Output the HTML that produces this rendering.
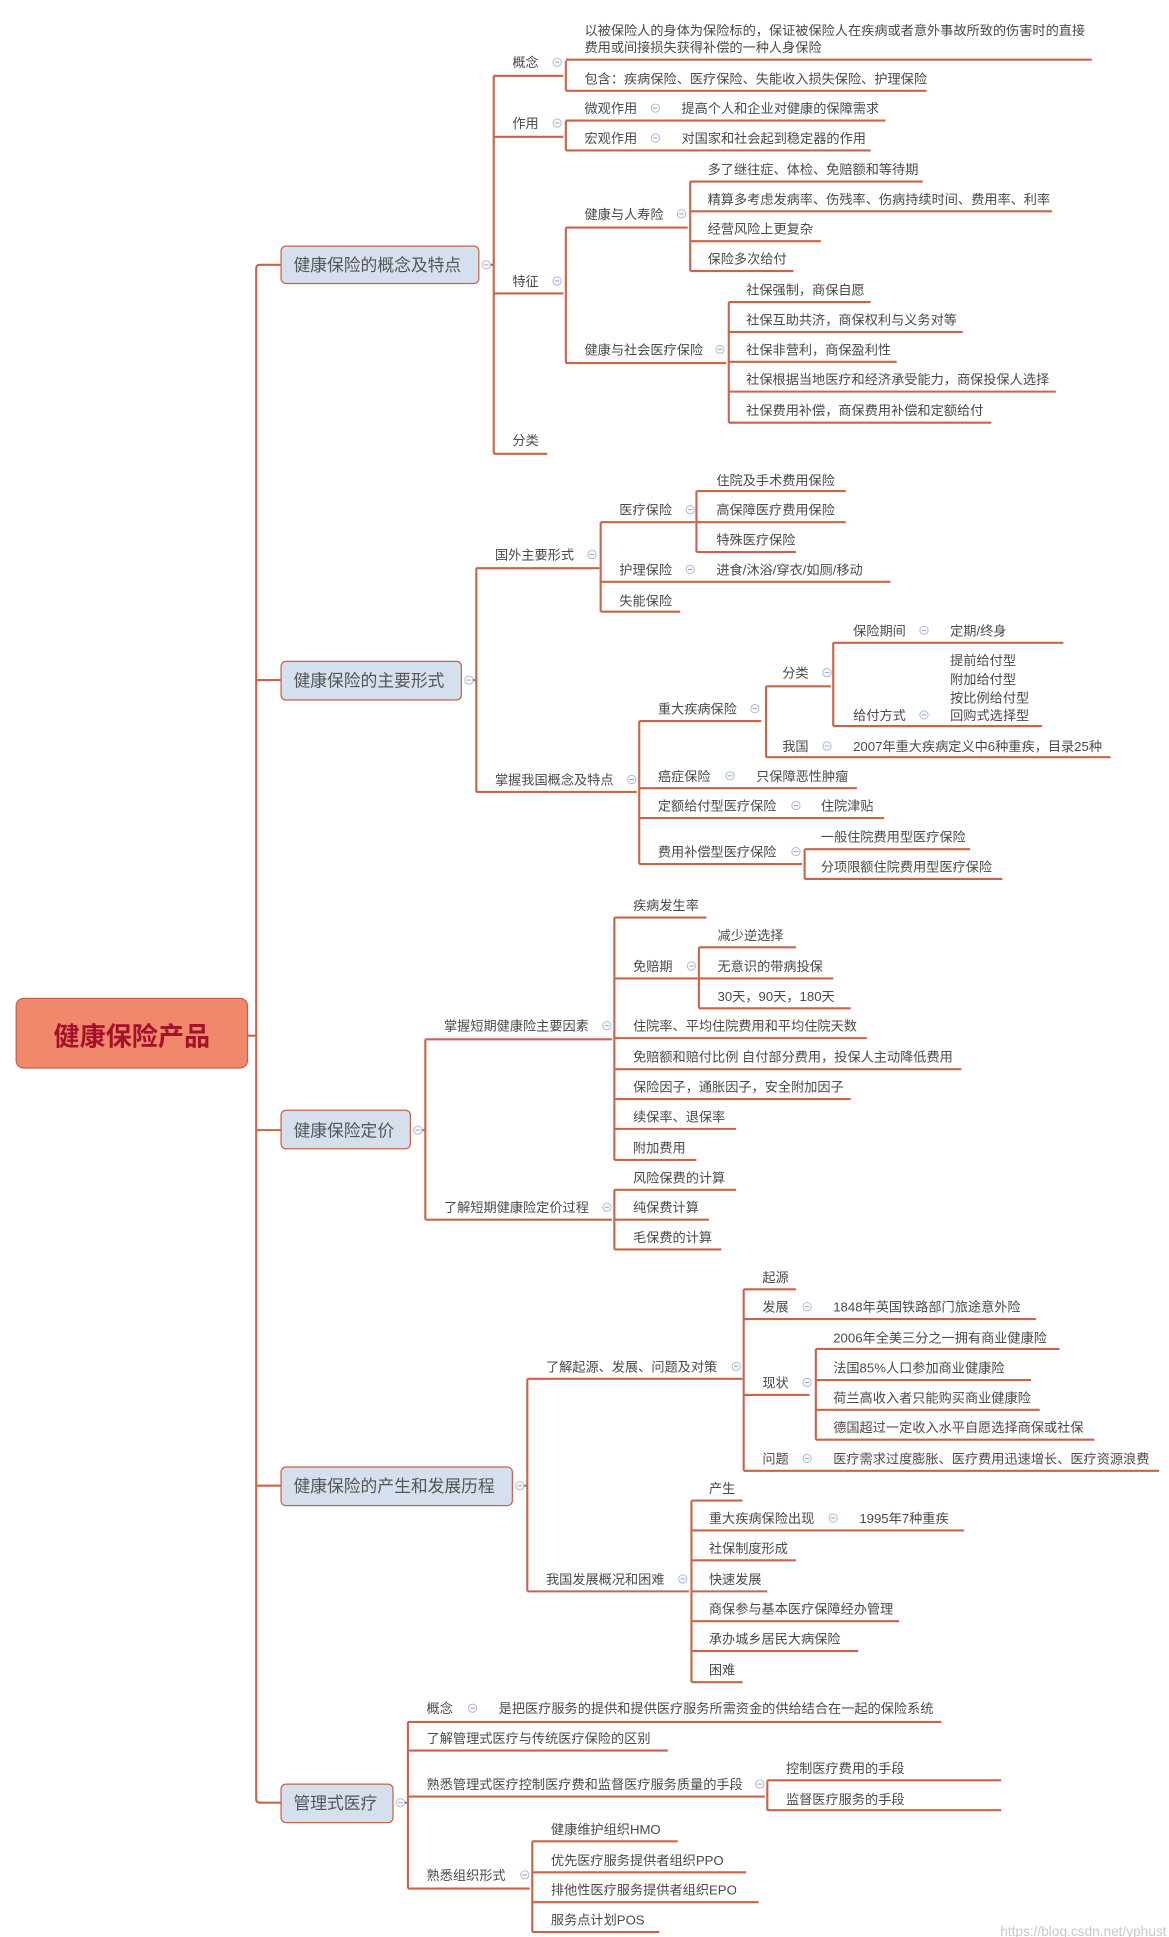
<!DOCTYPE html>
<html><head><meta charset="utf-8"><style>
html,body{margin:0;padding:0;background:#fff;}
svg{display:block;}
text{font-family:"Liberation Sans","Noto Sans CJK SC",sans-serif;font-size:10.6px;fill:#4a4a4a;}
.m{font-size:13.5px;fill:#555;}
</style></head><body>
<svg width="1169" height="1937" viewBox="0 0 940 1558" preserveAspectRatio="none" xmlns="http://www.w3.org/2000/svg">
<defs><g id="c"><circle r="3.3" fill="#fff" stroke="#a9b8dc" stroke-width="0.8"/><path d="M-1.8 0H1.8" stroke="#8f9fcc" stroke-width="0.8"/></g></defs>
<path fill="none" stroke="#c8644a" stroke-width="1.7" d="
M206 216V1447 M199 833H206 M209 213H226 M206 216Q206 213 209 213 M206 547H226 M206 909H226 M206 1195H226 M206 1447Q206 1450 209 1450H226
M388 213H397 M397 61V365 M397 61H453 M397 110H453 M397 236H453 M397 365H440
M455 49V73 M455 48H878 M455 73H745
M455 97V121 M455 97H712 M455 121H700
M455 183V292 M455 183H553 M455 292H584
M555 146V218 M555 146H742 M555 170H846 M555 194H660 M555 218H638
M586 243V340 M586 243H700 M586 267H774 M586 291H721 M586 315H849 M586 340H797
M374 547H383 M383 457V637 M383 457H482 M383 637H512
M483 420V492 M483 420H559 M483 468H716 M483 492H547
M560 395V444 M560 395H680 M560 420H680 M560 444H640
M514 580V695 M514 580H612 M514 634H689 M514 658H711 M514 695H645
M616 552V609 M616 552H668 M616 609H893
M670 517V584 M670 517H855 M670 584H838
M647 683V707 M647 683H780 M647 707H806
M333 909H342 M342 836V981 M342 836H492 M342 981H492
M494 738V933 M494 738H568 M494 787H561 M494 835H697 M494 860H773 M494 884H684 M494 908H592 M494 933H560
M562 762V811 M562 762H640 M562 787H670 M562 811H684
M494 957V1005 M494 957H592 M494 981H570 M494 1005H580
M415 1195H424 M424 1109V1280 M424 1109H597 M424 1280H554
M598 1037V1183 M598 1037H640 M598 1061H833 M598 1122H651 M598 1183H932
M656 1085V1158 M656 1085H852 M656 1110H829 M656 1134H836 M656 1158H880
M556 1207V1353 M556 1207H597 M556 1231H775 M556 1255H640 M556 1280H617 M556 1304H723 M556 1328H690 M556 1353H597
M319 1450H328 M328 1385V1519 M328 1385H757 M328 1408H537 M328 1445H615 M328 1519H426
M617 1432V1456 M617 1432H805 M617 1456H805
M428 1481V1554 M428 1481H545 M428 1506H600 M428 1530H610 M428 1554H530"/>

<rect x="13" y="803" width="186" height="56" rx="6" fill="#f0886c" stroke="#c8604a" stroke-width="1"/>
<text x="106" y="841" text-anchor="middle" style="font-size:21px;font-weight:bold;fill:#a3122a">健康保险产品</text>

<rect x="226" y="198" width="159" height="30" rx="4" fill="#d6dfee" stroke="#c8644a" stroke-width="1"/>
<text class="m" x="236" y="218">健康保险的概念及特点</text>
<rect x="226" y="532" width="145" height="31" rx="4" fill="#d6dfee" stroke="#c8644a" stroke-width="1"/>
<text class="m" x="236" y="552">健康保险的主要形式</text>
<rect x="226" y="893" width="104" height="31" rx="4" fill="#d6dfee" stroke="#c8644a" stroke-width="1"/>
<text class="m" x="236" y="914">健康保险定价</text>
<rect x="226" y="1180" width="186" height="31" rx="4" fill="#d6dfee" stroke="#c8644a" stroke-width="1"/>
<text class="m" x="236" y="1200">健康保险的产生和发展历程</text>
<rect x="226" y="1435" width="90" height="31" rx="4" fill="#d6dfee" stroke="#c8644a" stroke-width="1"/>
<text class="m" x="236" y="1455">管理式医疗</text>

<use href="#c" x="391" y="213"/><use href="#c" x="377" y="547"/><use href="#c" x="336" y="909"/><use href="#c" x="418" y="1195"/><use href="#c" x="322" y="1450"/>
<use href="#c" x="448" y="50"/><use href="#c" x="448" y="99"/><use href="#c" x="448" y="226"/>
<use href="#c" x="527" y="87"/><use href="#c" x="527" y="111"/><use href="#c" x="548" y="172"/><use href="#c" x="579" y="281"/>
<use href="#c" x="476" y="446"/><use href="#c" x="555" y="410"/><use href="#c" x="555" y="458"/><use href="#c" x="508" y="627"/>
<use href="#c" x="607" y="570"/><use href="#c" x="665" y="541"/><use href="#c" x="743" y="507"/><use href="#c" x="743" y="575"/><use href="#c" x="665" y="600"/>
<use href="#c" x="587" y="624"/><use href="#c" x="640" y="648"/><use href="#c" x="640" y="685"/>
<use href="#c" x="488" y="825"/><use href="#c" x="556" y="777"/><use href="#c" x="488" y="971"/>
<use href="#c" x="592" y="1099"/><use href="#c" x="649" y="1051"/><use href="#c" x="649" y="1112"/><use href="#c" x="649" y="1173"/><use href="#c" x="549" y="1270"/><use href="#c" x="670" y="1221"/>
<use href="#c" x="380" y="1374"/><use href="#c" x="611" y="1435"/><use href="#c" x="422" y="1508"/>

<text x="412" y="54">概念</text>
<text x="470" y="28">以被保险人的身体为保险标的，保证被保险人在疾病或者意外事故所致的伤害时的直接</text>
<text x="470" y="42">费用或间接损失获得补偿的一种人身保险</text>
<text x="470" y="67">包含：疾病保险、医疗保险、失能收入损失保险、护理保险</text>
<text x="412" y="103">作用</text>
<text x="470" y="91">微观作用</text><text x="548" y="91">提高个人和企业对健康的保障需求</text>
<text x="470" y="115">宏观作用</text><text x="548" y="115">对国家和社会起到稳定器的作用</text>
<text x="412" y="230">特征</text>
<text x="470" y="176">健康与人寿险</text>
<text x="569" y="140">多了继往症、体检、免赔额和等待期</text>
<text x="569" y="164">精算多考虑发病率、伤残率、伤病持续时间、费用率、利率</text>
<text x="569" y="188">经营风险上更复杂</text>
<text x="569" y="212">保险多次给付</text>
<text x="470" y="285">健康与社会医疗保险</text>
<text x="600" y="237">社保强制，商保自愿</text>
<text x="600" y="261">社保互助共济，商保权利与义务对等</text>
<text x="600" y="285">社保非营利，商保盈利性</text>
<text x="600" y="309">社保根据当地医疗和经济承受能力，商保投保人选择</text>
<text x="600" y="334">社保费用补偿，商保费用补偿和定额给付</text>
<text x="412" y="358">分类</text>

<text x="398" y="450">国外主要形式</text>
<text x="498" y="414">医疗保险</text>
<text x="576" y="390">住院及手术费用保险</text>
<text x="576" y="414">高保障医疗费用保险</text>
<text x="576" y="438">特殊医疗保险</text>
<text x="498" y="462">护理保险</text><text x="576" y="462">进食/沐浴/穿衣/如厕/移动</text>
<text x="498" y="487">失能保险</text>
<text x="398" y="631">掌握我国概念及特点</text>
<text x="529" y="574">重大疾病保险</text>
<text x="629" y="545">分类</text>
<text x="686" y="511">保险期间</text><text x="764" y="511">定期/终身</text>
<text x="764" y="535">提前给付型</text>
<text x="764" y="550">附加给付型</text>
<text x="764" y="565">按比例给付型</text>
<text x="686" y="579">给付方式</text><text x="764" y="579">回购式选择型</text>
<text x="629" y="604">我国</text><text x="686" y="604">2007年重大疾病定义中6种重疾，目录25种</text>
<text x="529" y="628">癌症保险</text><text x="608" y="628">只保障恶性肿瘤</text>
<text x="529" y="652">定额给付型医疗保险</text><text x="660" y="652">住院津贴</text>
<text x="529" y="689">费用补偿型医疗保险</text>
<text x="660" y="677">一般住院费用型医疗保险</text>
<text x="660" y="701">分项限额住院费用型医疗保险</text>

<text x="357" y="829">掌握短期健康险主要因素</text>
<text x="509" y="732">疾病发生率</text>
<text x="509" y="781">免赔期</text>
<text x="577" y="756">减少逆选择</text>
<text x="577" y="781">无意识的带病投保</text>
<text x="577" y="805">30天，90天，180天</text>
<text x="509" y="829">住院率、平均住院费用和平均住院天数</text>
<text x="509" y="854">免赔额和赔付比例 自付部分费用，投保人主动降低费用</text>
<text x="509" y="878">保险因子，通胀因子，安全附加因子</text>
<text x="509" y="902">续保率、退保率</text>
<text x="509" y="927">附加费用</text>
<text x="357" y="975">了解短期健康险定价过程</text>
<text x="509" y="951">风险保费的计算</text>
<text x="509" y="975">纯保费计算</text>
<text x="509" y="999">毛保费的计算</text>

<text x="439" y="1103">了解起源、发展、问题及对策</text>
<text x="613" y="1031">起源</text>
<text x="613" y="1055">发展</text><text x="670" y="1055">1848年英国铁路部门旅途意外险</text>
<text x="613" y="1116">现状</text>
<text x="670" y="1080">2006年全美三分之一拥有商业健康险</text>
<text x="670" y="1104">法国85%人口参加商业健康险</text>
<text x="670" y="1128">荷兰高收入者只能购买商业健康险</text>
<text x="670" y="1152">德国超过一定收入水平自愿选择商保或社保</text>
<text x="613" y="1177">问题</text><text x="670" y="1177">医疗需求过度膨胀、医疗费用迅速增长、医疗资源浪费</text>
<text x="439" y="1274">我国发展概况和困难</text>
<text x="570" y="1201">产生</text>
<text x="570" y="1225">重大疾病保险出现</text><text x="691" y="1225">1995年7种重疾</text>
<text x="570" y="1249">社保制度形成</text>
<text x="570" y="1274">快速发展</text>
<text x="570" y="1298">商保参与基本医疗保障经办管理</text>
<text x="570" y="1322">承办城乡居民大病保险</text>
<text x="570" y="1347">困难</text>

<text x="343" y="1378">概念</text><text x="401" y="1378">是把医疗服务的提供和提供医疗服务所需资金的供给结合在一起的保险系统</text>
<text x="343" y="1402">了解管理式医疗与传统医疗保险的区别</text>
<text x="343" y="1439">熟悉管理式医疗控制医疗费和监督医疗服务质量的手段</text>
<text x="632" y="1426">控制医疗费用的手段</text>
<text x="632" y="1451">监督医疗服务的手段</text>
<text x="343" y="1512">熟悉组织形式</text>
<text x="443" y="1475">健康维护组织HMO</text>
<text x="443" y="1500">优先医疗服务提供者组织PPO</text>
<text x="443" y="1524">排他性医疗服务提供者组织EPO</text>
<text x="443" y="1548">服务点计划POS</text>

<text x="938" y="1557" text-anchor="end" style="font-size:11px;fill:#c8c8c8">https://blog.csdn.net/yphust</text>
</svg>
</body></html>
